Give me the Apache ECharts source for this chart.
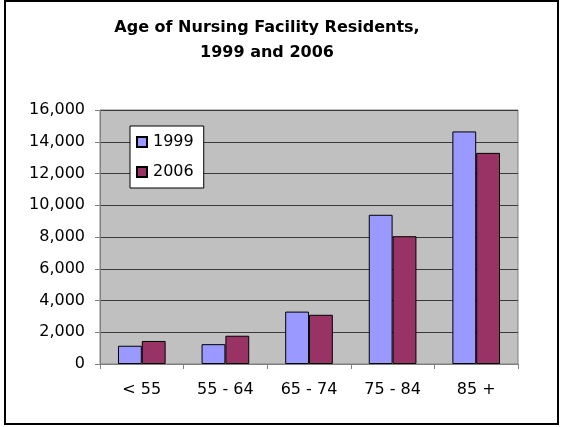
<!DOCTYPE html>
<html>
<head>
<meta charset="utf-8">
<script src="https://cdn.jsdelivr.net/npm/echarts@6/dist/echarts.min.js"></script>
<style>
  html, body { margin: 0; padding: 0; background: #fff; }
  #chart { width: 561px; height: 427px; }
</style>
</head>
<body>
<div id="chart"></div>
<script>
  // age groups and resident counts
  const categories = ["< 55", "55 - 64", "65 - 74", "75 - 84", "85 +"];
  const residents1999 = [1150, 1250, 3300, 9400, 14650];
  const residents2006 = [1450, 1780, 3100, 8050, 13300];
  const yTicks = [0, 16000, 2000]; // min, max, interval

  const chart = echarts.init(document.getElementById("chart"));
  const font = "'DejaVu Sans', sans-serif";

  chart.setOption({
    animation: false,
    backgroundColor: "#fff",
    textStyle: { fontFamily: font },
    title: {
      text: "Age of Nursing Facility Residents,\n1999 and 2006",
      left: 262,
      top: 10,
      textAlign: "center",
      textStyle: {
        fontFamily: font,
        fontSize: 16,
        fontWeight: "bold",
        color: "#000",
        lineHeight: 25
      }
    },
    graphic: [{
      type: "rect",
      shape: { x: 5, y: 1, width: 553, height: 423 },
      style: { fill: null, stroke: "#000", lineWidth: 2 },
      silent: true
    }],
    legend: {
      orient: "vertical",
      left: 130,
      top: 126,
      itemWidth: 10,
      itemHeight: 10,
      itemGap: 14,
      padding: [8, 10, 8, 6],
      backgroundColor: "#fff",
      borderColor: "#000",
      borderWidth: 1,
      borderRadius: 0,
      icon: "rect",
      textStyle: { fontFamily: font, fontSize: 16, color: "#000", padding: [0, 0, 0, 1] },
      data: ["1999", "2006"]
    },
    grid: {
      left: 100,
      right: 43,
      top: 110,
      bottom: 63,
      show: true,
      backgroundColor: "#C0C0C0",
      borderColor: "#808080",
      borderWidth: 1
    },
    xAxis: {
      type: "category",
      data: categories,
      axisLine: { lineStyle: { color: "#808080", width: 1 } },
      axisTick: { show: true, length: 5, lineStyle: { color: "#808080" } },
      axisLabel: { fontFamily: font, fontSize: 16, color: "#000", margin: 18 }
    },
    yAxis: {
      type: "value",
      min: yTicks[0],
      max: yTicks[1],
      interval: yTicks[2],
      axisLine: { show: true, lineStyle: { color: "#808080", width: 1 } },
      axisTick: { show: true, length: 5, lineStyle: { color: "#808080" } },
      splitLine: { lineStyle: { color: "#3a3a3a", width: 1 } },
      axisLabel: {
        fontFamily: font,
        fontSize: 16,
        color: "#000",
        margin: 15,
        formatter: v => v.toLocaleString("en-US")
      }
    },
    series: [
      {
        name: "1999",
        type: "bar",
        data: residents1999,
        barGap: "0%",
        barCategoryGap: "43%",
        itemStyle: { color: "#9999FF", borderColor: "#000", borderWidth: 1 }
      },
      {
        name: "2006",
        type: "bar",
        data: residents2006,
        itemStyle: { color: "#993366", borderColor: "#000", borderWidth: 1 }
      }
    ]
  });
</script>
</body>
</html>
